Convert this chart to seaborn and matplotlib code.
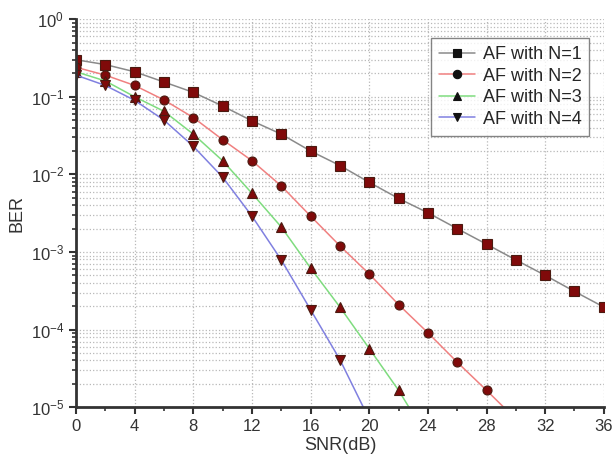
import numpy as np
import pandas as pd
import matplotlib
matplotlib.use("Agg")
import matplotlib.pyplot as plt
from matplotlib.ticker import LogLocator, NullFormatter, MultipleLocator
import seaborn as sns

# SNR points (dB)
snr_n1 = [0, 2, 4, 6, 8, 10, 12, 14, 16, 18, 20, 22, 24, 26, 28, 30, 32, 34, 36]
ber_n1 = [0.30, 0.26, 0.21, 0.155, 0.114, 0.076, 0.049, 0.033, 0.020, 0.013,
          0.0079, 0.0049, 0.0032, 0.0020, 0.00126, 0.00079, 0.00050, 0.00031, 0.000195]

snr_n2 = [0, 2, 4, 6, 8, 10, 12, 14, 16, 18, 20, 22, 24, 26, 28, 30]
ber_n2 = [0.24, 0.19, 0.14, 0.091, 0.054, 0.028, 0.015, 0.0071, 0.0029, 0.0012,
          0.00052, 0.00021, 9.1e-5, 3.8e-5, 1.65e-5, 7e-6]

snr_n3 = [0, 2, 4, 6, 8, 10, 12, 14, 16, 18, 20, 22, 24]
ber_n3 = [0.21, 0.16, 0.10, 0.065, 0.033, 0.015, 0.0057, 0.0021, 0.00062,
          0.000195, 5.7e-5, 1.65e-5, 4e-6]

snr_n4 = [0, 2, 4, 6, 8, 10, 12, 14, 16, 18, 20]
ber_n4 = [0.19, 0.14, 0.09, 0.05, 0.023, 0.0092, 0.0029, 0.00079, 0.00018, 4.1e-5, 7e-6]

labels = ['AF with N=1', 'AF with N=2', 'AF with N=3', 'AF with N=4']
line_colors = ['#8a8a8a', '#f08080', '#7fdc7f', '#8080e0']
markers = ['s', 'o', '^', 'v']

series = [(snr_n1, ber_n1), (snr_n2, ber_n2), (snr_n3, ber_n3), (snr_n4, ber_n4)]

sns.set_style("white")
plt.rcParams['font.family'] = ['Liberation Sans', 'DejaVu Sans']

fig = plt.figure(figsize=(6.13, 4.68), dpi=100)
ax = fig.add_axes([0.124, 0.130, 0.861, 0.829])

for (x, y), lab, c, m in zip(series, labels, line_colors, markers):
    df = pd.DataFrame({'SNR': x, 'BER': y})
    sns.lineplot(data=df, x='SNR', y='BER', ax=ax, color=c, linewidth=1.1,
                 marker=m, markersize=6.5, markerfacecolor='#800a0a',
                 markeredgecolor='#4a1a10', markeredgewidth=0.8, label=lab)

ax.set_yscale('log')
ax.set_xlim(0, 36)
ax.set_ylim(1e-5, 1)
ax.xaxis.set_major_locator(MultipleLocator(4))
ax.xaxis.set_minor_locator(MultipleLocator(2))
ax.yaxis.set_major_locator(LogLocator(base=10, numticks=10))
ax.yaxis.set_minor_locator(LogLocator(base=10, subs=np.arange(2, 10), numticks=20))
ax.yaxis.set_minor_formatter(NullFormatter())

ax.grid(True, which='major', axis='x', color='#b8b8b8', linestyle=':', linewidth=0.9)
ax.grid(True, which='both', axis='y', color='#b8b8b8', linestyle=':', linewidth=0.9)

for s in ['top', 'right']:
    ax.spines[s].set_visible(False)
for s in ['left', 'bottom']:
    ax.spines[s].set_linewidth(2)
    ax.spines[s].set_color('#333333')

ax.tick_params(axis='both', which='major', direction='out', length=5, width=1.5,
               labelsize=12, colors='#333333', left=True, bottom=True)
ax.tick_params(axis='both', which='minor', direction='out', length=3, width=1.2,
               colors='#333333', left=True, bottom=True)

ax.set_xlabel('SNR(dB)', fontsize=13, color='#333333', labelpad=2)
ax.set_ylabel('BER', fontsize=13, color='#333333')

leg = ax.legend(loc='upper right', bbox_to_anchor=(0.99, 0.975), fontsize=13,
                frameon=True, fancybox=False, edgecolor='#666666',
                handlelength=2.0, handletextpad=0.4, borderpad=0.45,
                labelspacing=0.25)
leg.get_frame().set_linewidth(1.0)
for h in leg.legend_handles:
    h.set_markerfacecolor('#111111')
    h.set_markeredgecolor('#111111')
    h.set_markersize(6)

fig.savefig('out.png', dpi=100)
